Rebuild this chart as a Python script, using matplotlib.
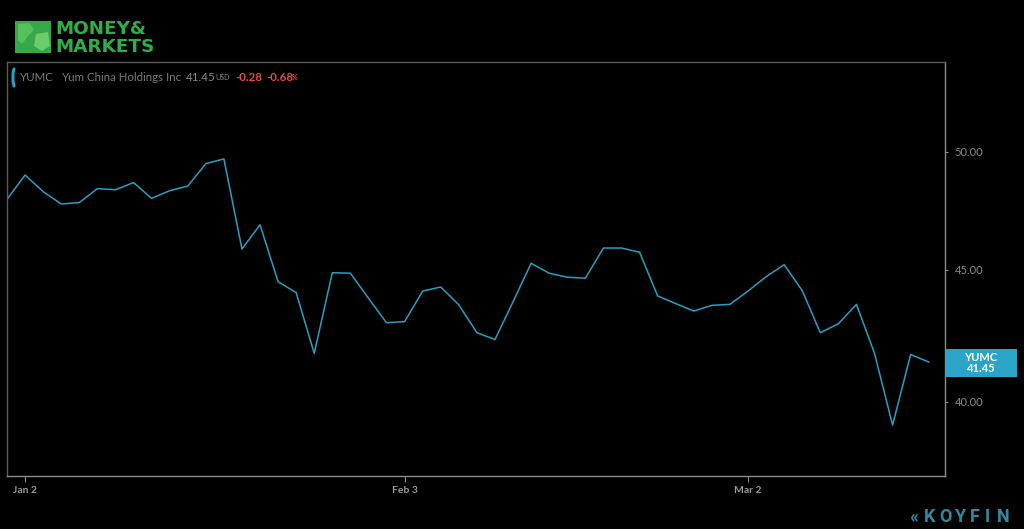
import numpy as np
import pandas as pd
import matplotlib
matplotlib.use('Agg')
from matplotlib import pyplot as plt
from matplotlib.patches import Rectangle, Polygon

plt.rcParams['font.family'] = ['Lato', 'DejaVu Sans']

# data: YUMC daily close, Dec 31 2019 -> Mar 16 2020
holidays = ['2020-01-01', '2020-01-20', '2020-02-17']
dates = [d for d in pd.bdate_range('2019-12-31', '2020-03-16') if d.strftime('%Y-%m-%d') not in holidays]
closes = [47.93, 48.98, 48.26, 47.73, 47.79, 48.39, 48.34, 48.65, 47.97, 48.30,
          48.50, 49.48, 49.69, 45.85, 46.85, 44.53, 44.10, 41.77, 44.89, 44.87,
          43.88, 42.93, 42.97, 44.16, 44.32, 43.62, 42.55, 42.29, 43.74, 45.27,
          44.87, 44.71, 44.67, 45.89, 45.89, 45.72, 43.97, 43.67, 43.38, 43.60,
          43.64, 44.16, 44.73, 45.21, 44.18, 42.55, 42.89, 43.64, 41.77, 39.18,
          41.73, 41.45]
tick_dates = ['2020-01-02', '2020-02-03', '2020-03-02']
tick_labels = ['Jan 2', 'Feb 3', 'Mar 2']
y_ticks = [40, 45, 50]
ticker = 'YUMC'
name = 'Yum China Holdings Inc'
change = '-0.28'
change_pct = '-0.68'

W, H = 1024, 529


def px(x, y):
    return x / W, 1 - y / H


fig = plt.figure(figsize=(W / 100, H / 100), dpi=100, facecolor='black')
ax = fig.add_axes([7 / W, 1 - 476 / H, (945 - 7) / W, (476 - 62) / H], facecolor='black')

x = np.arange(len(closes))
line_col = '#2a9fc2'
ax.plot(x, closes, color=line_col, lw=1.1)

ax.set_yscale('log')
ax.set_ylim(37.44, 54.18)
ax.set_xlim(0, 51.9)
ax.yaxis.tick_right()
ax.set_yticks(y_ticks)
ax.set_yticklabels(['%.2f' % v for v in y_ticks])
ax.yaxis.set_minor_locator(matplotlib.ticker.NullLocator())
str_dates = [d.strftime('%Y-%m-%d') for d in dates]
ax.set_xticks([str_dates.index(d) for d in tick_dates])
ax.set_xticklabels(tick_labels)
ax.tick_params(axis='y', colors='#8c8c8c', labelcolor='#8c8c8c', length=2, pad=5, labelsize=8)
ax.tick_params(axis='x', colors='#8c8c8c', labelcolor='#9a9a9a', length=4, pad=3, labelsize=7.5)
for lbl in ax.get_xticklabels():
    lbl.set_fontweight('bold')
for s in ax.spines.values():
    s.set_color('#5a5a5a')
    s.set_linewidth(1)
ax.spines['right'].set_color('#8c8c8c')
ax.spines['bottom'].set_color('#8c8c8c')

# price tag
tag = Rectangle(px(945, 377), 72 / W, 28 / H, transform=fig.transFigure, facecolor='#2aa5c8', edgecolor='none')
fig.patches.append(tag)
fig.text(*px(981, 363), '%s\n%.2f' % (ticker, closes[-1]), color='white', fontsize=8,
         fontweight='bold', ha='center', va='center', linespacing=1.0)

# legend line
fig.lines.append(plt.Line2D([14 / W, 13 / W, 13 / W, 14 / W], [1 - 69 / H, 1 - 73 / H, 1 - 81 / H, 1 - 86 / H],
                            transform=fig.transFigure, color=line_col, lw=2.2, solid_capstyle='round'))
fig.text(*px(19, 77), ticker, color='#7a7a7a', fontsize=8.3, va='center')
fig.text(*px(61, 77), name, color='#7a7a7a', fontsize=8.3, va='center')
fig.text(*px(186, 77), '%.2f' % closes[-1], color='#8a8a8a', fontsize=8.3, va='center')
fig.text(*px(215, 78), 'USD', color='#8a8a8a', fontsize=5, va='center')
fig.text(*px(235, 77), change, color='#e8474c', fontsize=8.3, fontweight='bold', va='center')
fig.text(*px(266, 77), change_pct, color='#e8474c', fontsize=8.3, fontweight='bold', va='center')
fig.text(*px(292, 78), '%', color='#e8474c', fontsize=5, fontweight='bold', va='center')

# Money & Markets logo
fig.patches.append(Rectangle(px(15, 53), 36 / W, 32 / H, transform=fig.transFigure,
                             facecolor='#36a84a', edgecolor='none'))
fig.patches.append(Polygon([px(18, 24), px(30, 23), px(34, 30), px(28, 36), px(22, 44), px(18, 40)],
                           transform=fig.transFigure, facecolor='#58c05a', edgecolor='none'))
fig.patches.append(Polygon([px(36, 34), px(48, 32), px(50, 46), px(42, 51), px(34, 46)],
                           transform=fig.transFigure, facecolor='#6bcc6a', edgecolor='none'))
fig.text(*px(55, 28.5), 'MONEY&', color='#2fae48', fontsize=13.2, fontweight='bold',
         family='DejaVu Sans', va='center')
fig.text(*px(55, 46.5), 'MARKETS', color='#2fae48', fontsize=13.2, fontweight='bold',
         family='DejaVu Sans', va='center')

# Koyfin
koy_col = '#2f8aa3'
for ch, xp in zip('KOYFIN', [930, 945, 961, 975, 987, 1003]):
    fig.text(*px(xp, 517), ch, color=koy_col, fontsize=13, fontweight='bold', family='Roboto',
             ha='center', va='center')
fig.text(*px(914, 517), '\u00ab', color=koy_col, fontsize=14, fontweight='bold', ha='center', va='center')

fig.savefig('out.png', dpi=100, facecolor='black')
